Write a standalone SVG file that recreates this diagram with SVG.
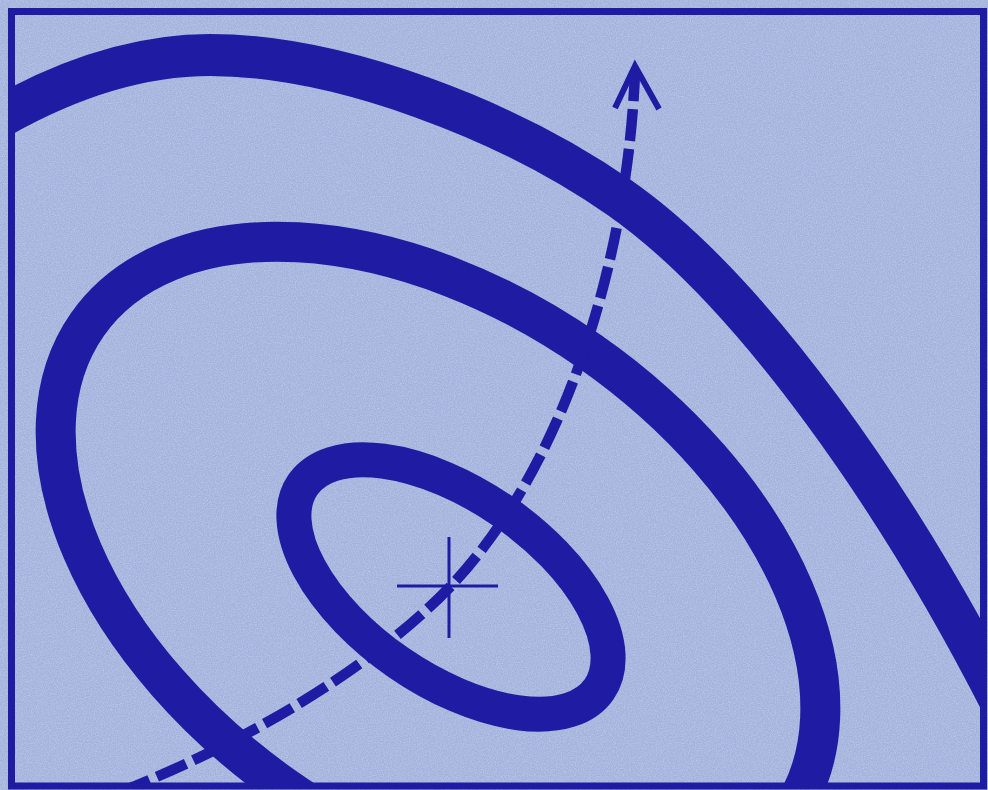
<svg xmlns="http://www.w3.org/2000/svg" width="988" height="790" viewBox="0 0 988 790">
  <style>
    .ring { stroke: #1f1ba2; fill: none; }
    .dash { stroke: #1f1ba2; fill: none; stroke-width: 10.5; stroke-dasharray: 32 8; }
    .head { stroke: #1f1ba2; fill: none; stroke-width: 6; stroke-linecap: butt; stroke-linejoin: miter; }
    .cross { stroke: #1f1ba2; stroke-width: 3; }
  </style>
  <defs>
    <clipPath id="inside">
      <rect x="11.5" y="11.5" width="972" height="774.5"/>
    </clipPath>
    <filter id="grain" x="0" y="0" width="100%" height="100%">
      <feTurbulence type="fractalNoise" baseFrequency="0.85" numOctaves="2" seed="3" result="n"/>
      <feColorMatrix in="n" type="matrix" values="0 0 0 0 1  0 0 0 0 1  0 0 0 0 1  0 0 0 0.9 -0.3"/>
    </filter>
  </defs>

  <rect id="paper" x="0" y="0" width="988" height="790" fill="#a2b2dc"/>
  <rect x="0" y="0" width="988" height="790" filter="url(#grain)" opacity="0.55"/>

  <g clip-path="url(#inside)">
    <g id="outer-ring">
      <path class="ring" stroke-width="42" d="M -30,135 C 60,78 140,55 210,55 C 340,55 510,121 620,198 C 750,289 900,500 1010,720"/>
    </g>
    <g id="middle-ring">
      <ellipse class="ring" stroke-width="40" cx="438" cy="570" rx="428" ry="266" transform="rotate(35 438 570)"/>
    </g>
    <g id="inner-ring">
      <ellipse class="ring" stroke-width="35" cx="451" cy="587" rx="180" ry="92" transform="rotate(34.6 451 587)"/>
    </g>
  </g>

  <g id="crosshair">
    <line class="cross" x1="449" y1="537" x2="449" y2="638"/>
    <line class="cross" x1="397" y1="586" x2="498" y2="586"/>
  </g>

  <g id="connectors">
    <g clip-path="url(#inside)">
      <path class="dash" d="M 120,792 C 240,745 370,670 450,587 C 570,460 628,250 635,72"/>
    </g>
    <polyline class="head" points="615,108 635,66 659,109"/>
  </g>

  <g id="frame">
    <rect x="11.5" y="11.5" width="972" height="774.5" fill="none" stroke="#1f1ba2" stroke-width="7"/>
  </g>
</svg>
